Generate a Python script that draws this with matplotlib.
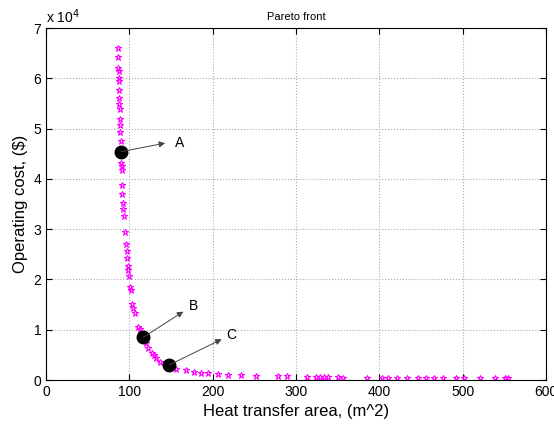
import numpy as np
import matplotlib.pyplot as plt

plt.rcParams['font.family'] = ['Liberation Sans', 'DejaVu Sans']

# Pareto front points (area m^2, cost $ / 1e4)
area = [86.4, 86.0, 86.8, 87.2, 87.2, 87.6, 87.6, 87.6, 88.0, 88.4, 88.4, 88.8,
        89.2, 89.6, 90.4, 90.8, 90.8, 91.2, 91.6, 92.0, 92.8, 93.2, 95.2, 96.0,
        96.8, 97.6, 98.0, 98.8, 99.6, 100.8, 101.6, 103.2, 104.8, 106.8, 110.8,
        112.8, 120.0, 122.8, 126.8, 130.0, 132.0, 136.8, 156.0, 167.6, 177.6,
        186.4, 194.8, 206.0, 218.8, 233.6, 252.0, 278.0, 289.6, 312.8, 324.0,
        328.8, 333.6, 338.8, 350.8, 356.8, 384.8, 402.8, 410.8, 421.6, 432.8,
        446.0, 455.6, 465.6, 476.8, 492.0, 501.6, 520.8, 538.8, 550.8, 554.8]
cost = [6.61, 6.43, 6.20, 6.14, 6.00, 5.94, 5.76, 5.61, 5.49, 5.39, 5.19, 5.08,
        4.94, 4.76, 4.31, 4.26, 4.17, 3.88, 3.69, 3.52, 3.41, 3.27, 2.94, 2.71,
        2.56, 2.43, 2.26, 2.18, 2.07, 1.85, 1.78, 1.52, 1.43, 1.34, 1.05,
        1.01, 0.735, 0.64, 0.54, 0.50, 0.44, 0.35, 0.22, 0.19, 0.16,
        0.14, 0.13, 0.12, 0.105, 0.09, 0.085, 0.07, 0.07, 0.06, 0.055,
        0.055, 0.05, 0.05, 0.05, 0.045, 0.04, 0.035, 0.035, 0.035, 0.03,
        0.03, 0.03, 0.03, 0.03, 0.03, 0.03, 0.03, 0.03, 0.03, 0.03]

# selected solutions
sel_labels = ['A', 'B', 'C']
sel_area = [90.0, 116.8, 148.0]
sel_cost = [4.54, 0.85, 0.30]
tip_area = [143.0, 164.8, 210.8]
tip_cost = [4.71, 1.36, 0.81]
txt_area = [155.0, 171.0, 216.0]
txt_cost = [4.71, 1.47, 0.89]

fig = plt.figure(figsize=(5.54, 4.28), dpi=100)
ax = fig.add_axes([46/554, 1 - 380/428, 500/554, 352/428])

ax.plot(np.array(area), np.array(cost) * 1e4, linestyle='none', marker='*',
        markersize=5, markerfacecolor='none', markeredgecolor='#ff00ff',
        markeredgewidth=0.8)
ax.plot(np.array(sel_area), np.array(sel_cost) * 1e4, linestyle='none',
        marker='o', markersize=9, color='black')

for lab, xa, ya, xt, yt, xl, yl in zip(sel_labels, sel_area, sel_cost,
                                       tip_area, tip_cost, txt_area, txt_cost):
    ax.annotate('', xy=(xt, yt * 1e4), xytext=(xa, ya * 1e4),
                arrowprops=dict(arrowstyle='-|>', color='#444444', lw=0.7,
                                mutation_scale=9, shrinkA=0, shrinkB=0))
    ax.text(xl, yl * 1e4, lab, fontsize=10, va='center', ha='left')

ax.set_xlim(0, 600)
ax.set_ylim(0, 7e4)
ax.set_xticks(np.arange(0, 601, 100))
ax.set_yticks(np.arange(0, 7.01e4, 1e4))
ax.set_yticklabels([str(i) for i in range(8)])
ax.text(0, 1.005, r'x 10$^4$', transform=ax.transAxes, fontsize=10,
        ha='left', va='bottom')
ax.grid(True, linestyle=':', color='#aaaaaa', linewidth=0.8)
ax.tick_params(direction='in', top=True, right=True, labelsize=10, length=4)
ax.set_xlabel('Heat transfer area, (m^2)', fontsize=12)
ax.set_ylabel('Operating cost, ($)', fontsize=12)
ax.set_title('Pareto front', fontsize=8)

fig.savefig('out.png', dpi=100)
